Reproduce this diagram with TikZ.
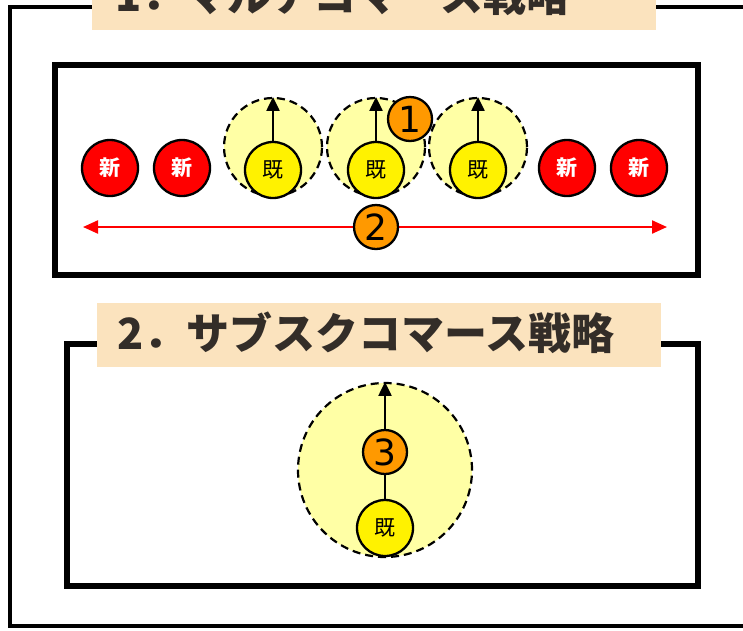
\documentclass[tikz,border=0pt]{standalone}
\usepackage{fontspec}
\newfontfamily\jp{Noto Sans CJK JP}
\newfontfamily\dv{DejaVu Sans}
\usetikzlibrary{arrows.meta}
\definecolor{titlebg}{RGB}{251,227,190}
\definecolor{titlefg}{RGB}{51,45,40}
\definecolor{halocol}{RGB}{255,255,165}
\definecolor{numor}{RGB}{255,153,0}
\begin{document}
\begin{tikzpicture}[x=1pt,y=-1pt,
  frame/.style={draw=black,line width=5.5pt},
  titlebox/.style={fill=titlebg,draw=none},
  titletext/.style={anchor=west,inner sep=0,text=titlefg,font=\jp\bfseries\fontsize{43}{43}\selectfont},
  newc/.style={circle,draw=black,line width=2.3pt,fill=red,minimum size=56pt,inner sep=0,text=white,font=\jp\bfseries\fontsize{21}{21}\selectfont},
  kic/.style={circle,draw=black,line width=2.3pt,fill=yellow,minimum size=56pt,inner sep=0,font=\jp\fontsize{21}{21}\selectfont},
  halo/.style={circle,draw=black,dash pattern=on 8pt off 5pt,line width=2.2pt,fill=halocol,inner sep=0},
  numc/.style={circle,draw=black,line width=2.3pt,fill=numor,minimum size=44pt,inner sep=0,font=\dv\fontsize{36}{36}\selectfont},
  uparrow/.style={draw=black,line width=2.2pt,-{Triangle[length=14pt,width=13pt]}},
  redarrow/.style={draw=red,line width=2.2pt,{Triangle[length=15pt,width=13pt]}-{Triangle[length=15pt,width=13pt]}}
]
\useasboundingbox (0,0) rectangle (743,630);
\clip (0,0) rectangle (743,630);
% outer frame
\draw[line width=4.5pt] (10,7) rectangle (800,626);
\fill[titlebox] (92,-40) rectangle (656,30);
\node[titletext] (t1) at (115,-5) {1．マルチコマース戦略};
% box 1
\draw[frame] (55,65) rectangle (698,275);
\node[newc] (n1) at (110,168) {新};
\node[newc] (n2) at (182,168) {新};
\node[newc] (n3) at (567,168) {新};
\node[newc] (n4) at (639,168) {新};
\node[halo,minimum size=98pt] (h1) at (273,147) {};
\node[halo,minimum size=98pt] (h2) at (376,147) {};
\node[halo,minimum size=98pt] (h3) at (478,147) {};
\node[kic] (k1) at (273,170) {既};
\node[kic] (k2) at (376,170) {既};
\node[kic] (k3) at (478,170) {既};
\draw[uparrow] (k1.north) -- (h1.north);
\draw[uparrow] (k2.north) -- (h2.north);
\draw[uparrow] (k3.north) -- (h3.north);
\node[numc] (c1) at (410,119) {1};
\coordinate (ra) at (83,227);
\coordinate (rb) at (667,227);
\draw[redarrow] (ra) -- (rb);
\node[numc] (c2) at (376,227) {2};
% box 2
\draw[frame] (67,344) rectangle (698,586);
\fill[titlebox] (97,303) rectangle (661,367);
\node[titletext] (t2) at (117,333) {2．サブスクコマース戦略};
\node[halo,minimum size=174pt] (h4) at (385,470) {};
\node[kic] (k4) at (385,528) {既};
\draw[uparrow] (k4.north) -- (h4.north);
\node[numc] (c3) at (385,452) {3};
\end{tikzpicture}
\end{document}
